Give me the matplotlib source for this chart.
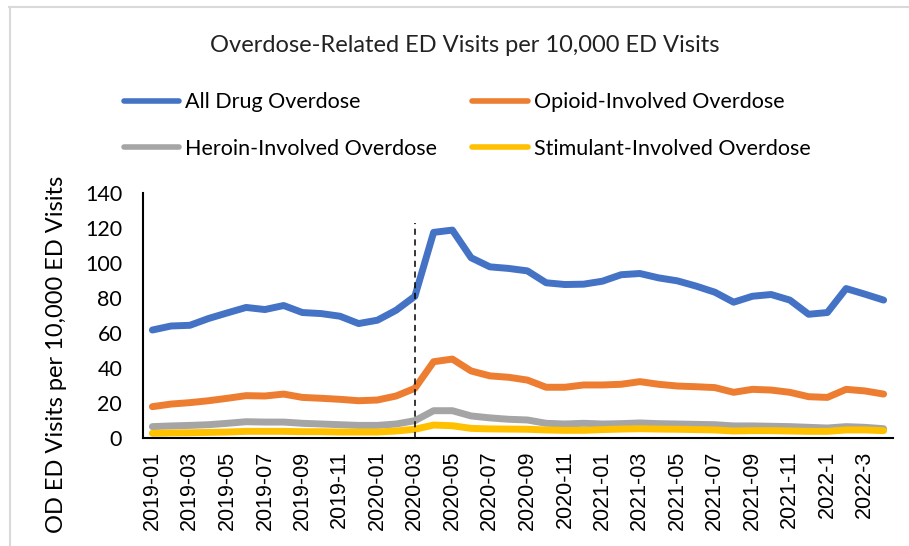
import numpy as np
import matplotlib
matplotlib.use("Agg")
import matplotlib.pyplot as plt
from matplotlib.lines import Line2D

# monthly categories 2019-01 .. 2022-04
months = []
for yr in [2019, 2020, 2021]:
    for m in range(1, 13):
        months.append("%d-%02d" % (yr, m))
months += ["2022-1", "2022-2", "2022-3", "2022-4"]

all_drug = [61.7, 64.0, 64.4, 68.3, 71.5, 74.6, 73.4, 75.7, 71.7, 71.1,
            69.6, 65.4, 67.3, 73.0, 81.0, 117.5, 118.8, 103.0, 97.8, 96.9,
            95.5, 88.7, 87.7, 87.9, 89.6, 93.3, 94.0, 91.5, 89.8, 86.8,
            83.3, 77.6, 81.0, 82.0, 78.8, 70.7, 71.7, 85.4, 82.2, 78.8]
opioid = [17.9, 19.4, 20.2, 21.3, 22.7, 24.2, 24.0, 25.1, 23.2, 22.7,
          22.1, 21.3, 21.7, 24.0, 28.4, 43.6, 45.1, 38.3, 35.5, 34.7,
          33.1, 29.0, 29.0, 30.3, 30.3, 30.7, 32.2, 30.7, 29.7, 29.3,
          28.8, 26.1, 27.8, 27.4, 26.1, 23.6, 23.2, 27.8, 26.9, 25.1]
heroin = [6.5, 6.9, 7.2, 7.6, 8.4, 9.3, 9.1, 9.1, 8.4, 8.0,
          7.6, 7.2, 7.2, 8.0, 9.9, 15.6, 15.6, 12.6, 11.5, 10.7,
          10.3, 8.4, 8.0, 8.4, 8.0, 8.2, 8.6, 8.2, 8.0, 7.8,
          7.6, 6.9, 6.9, 6.7, 6.5, 6.1, 5.7, 6.5, 6.1, 5.3]
stimulant = [2.7, 2.9, 3.0, 3.2, 3.4, 3.8, 3.8, 3.8, 3.6, 3.6,
             3.4, 3.4, 3.4, 4.0, 5.0, 7.4, 7.0, 5.5, 5.2, 5.1,
             5.0, 4.6, 4.4, 4.4, 4.8, 5.1, 5.3, 5.1, 5.0, 4.8,
             4.6, 4.0, 4.2, 4.2, 4.0, 3.8, 3.8, 4.6, 4.6, 4.2]

series_names = ["All Drug Overdose", "Opioid-Involved Overdose",
                "Heroin-Involved Overdose", "Stimulant-Involved Overdose"]
colors = ["#4472C4", "#ED7D31", "#A5A5A5", "#FFC000"]

marker_month = "2020-03"
marker_top = 123

txt_font = ["Lato", "DejaVu Sans"]

fig = plt.figure(figsize=(9.09, 5.46), dpi=100)
ax = fig.add_axes([143 / 909, 1 - 438 / 546, 750 / 909, 245 / 546])

x = np.arange(len(months))
for vals, name, c in zip([all_drug, opioid, heroin, stimulant], series_names, colors):
    ax.plot(x, vals, color=c, lw=5, solid_joinstyle="round", solid_capstyle="round", label=name)

mi = months.index(marker_month)
ax.vlines(mi, 0, marker_top, color="black", lw=1.1, linestyles=(0, (4, 3)), zorder=5)

ax.set_xlim(-0.5, len(months) - 0.5)
ax.set_ylim(0, 140)
ax.set_yticks(range(0, 141, 20))
ax.set_yticklabels([str(v) for v in range(0, 141, 20)], fontsize=15.5, family=txt_font)
ax.set_xticks(x[::2])
ax.set_xticklabels(months[::2], rotation=90, fontsize=15.5, family=["Liberation Sans", "DejaVu Sans"])
ax.tick_params(length=0)
ax.tick_params(axis="y", pad=15)
ax.tick_params(axis="x", pad=9)
for s in ["top", "right"]:
    ax.spines[s].set_visible(False)
for s in ["left", "bottom"]:
    ax.spines[s].set_linewidth(1.5)
    ax.spines[s].set_color("black")

fig.text(465 / 909, 1 - 45 / 546, "Overdose-Related ED Visits per 10,000 ED Visits",
         ha="center", va="center", fontsize=17, family=txt_font, color="#222222")
fig.text(57 / 909, 1 - 354 / 546, "OD ED Visits per 10,000 ED Visits", rotation=90,
         ha="center", va="center", fontsize=17, family=txt_font)

# legend row-wise like Excel: reorder for column filling
handles = [Line2D([], [], color=c, lw=4, solid_capstyle="round") for c in colors]
order = [0, 2, 1, 3]
leg = fig.legend([handles[i] for i in order], [series_names[i] for i in order], ncol=2,
                 loc="center", bbox_to_anchor=(467 / 909, 1 - 125.5 / 546),
                 frameon=False, prop={"family": txt_font, "size": 15.5}, handlelength=2.6,
                 handletextpad=0.25, columnspacing=1.65, labelspacing=1.25)

# light chart-area border
fig.add_artist(Line2D([9 / 909, 1], [1 - 7 / 546, 1 - 7 / 546], color="#D9D9D9", lw=1.5))
fig.add_artist(Line2D([10 / 909, 10 / 909], [0, 1 - 7 / 546], color="#D9D9D9", lw=1.5))

fig.savefig("out.png", dpi=100)
